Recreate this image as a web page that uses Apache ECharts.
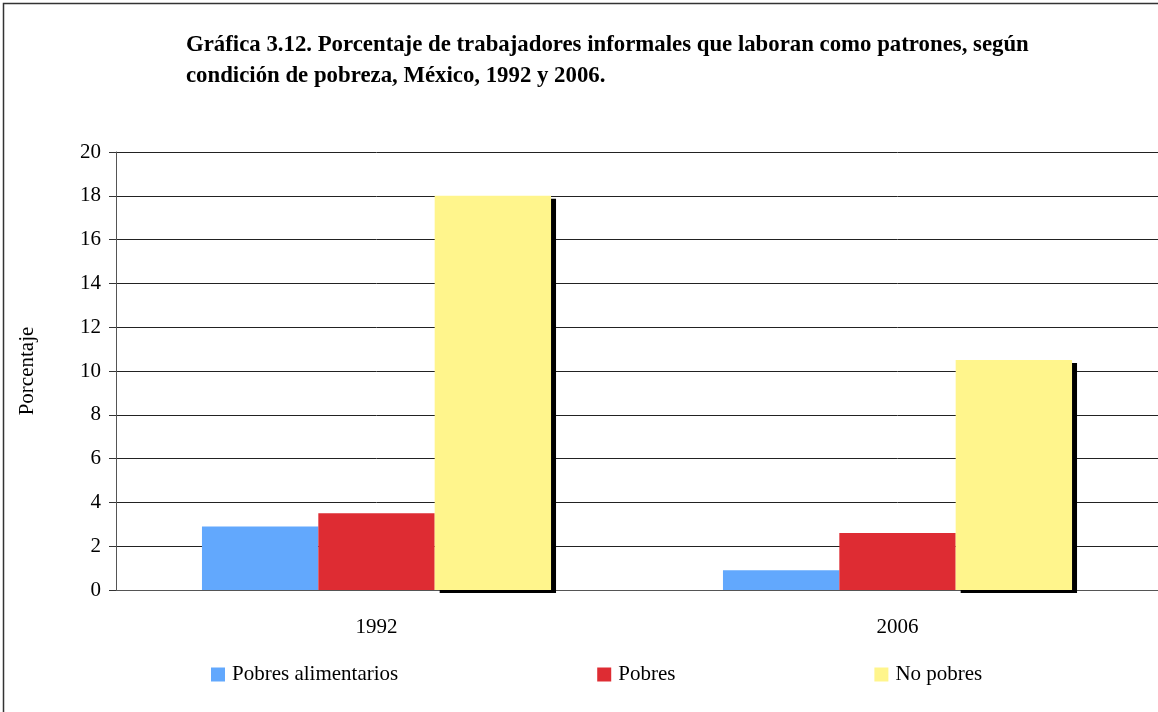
<!DOCTYPE html>
<html>
<head>
<meta charset="utf-8">
<script src="https://cdn.jsdelivr.net/npm/echarts@6/dist/echarts.min.js"></script>
<style>
  html, body { margin: 0; padding: 0; background: #fff; }
  #chart { width: 1158px; height: 712px; }
</style>
</head>
<body>
<div id="chart"></div>
<script>
const years = ['1992', '2006']
const seriesNames = ['Pobres alimentarios', 'Pobres', 'No pobres']
const pobresAlimentarios = [2.9, 0.9]
const pobres = [3.5, 2.6]
const noPobres = [18.0, 10.5]
const yTicks = [0, 20, 2]

const colors = ['#62a8fd', '#de2c33', '#fff58c']
const serif = '"Liberation Serif", "DejaVu Serif", serif'

function bar(name, data, color, shadow) {
  const s = {
    name: name,
    type: 'bar',
    data: data,
    barGap: '0%',
    barCategoryGap: '33%',
    itemStyle: { color: color },
    emphasis: { disabled: true }
  }
  if (shadow) {
    s.itemStyle.shadowColor = '#000'
    s.itemStyle.shadowOffsetX = 5
    s.itemStyle.shadowOffsetY = 3
    s.itemStyle.shadowBlur = 0
  }
  return s
}

const chart = echarts.init(document.getElementById('chart'))
chart.setOption({
  animation: false,
  graphic: [{
    type: 'rect',
    shape: { x: 3.5, y: 3.5, width: 1200, height: 800 },
    style: { fill: 'none', stroke: '#333', lineWidth: 1.5 }
  }],
  title: {
    text: 'Gráfica 3.12. Porcentaje de trabajadores informales que laboran como patrones, según\ncondición de pobreza, México, 1992 y 2006.',
    left: 181,
    top: 25,
    textStyle: {
      fontFamily: serif,
      fontWeight: 'bold',
      fontSize: 22.8,
      lineHeight: 31,
      color: '#000'
    }
  },
  legend: {
    left: 206,
    top: 659,
    itemWidth: 14,
    itemHeight: 14,
    itemGap: 199,
    icon: 'rect',
    textStyle: { fontFamily: serif, fontSize: 21, color: '#000', padding: [0, 0, 0, 2] },
    data: seriesNames
  },
  grid: { left: 116, right: 0, top: 152, bottom: 122 },
  xAxis: {
    type: 'category',
    data: years,
    axisLine: { lineStyle: { color: '#555', width: 1 } },
    axisTick: { length: 7, lineStyle: { color: '#555' } },
    axisLabel: { fontFamily: serif, fontSize: 21, color: '#000', margin: 27 }
  },
  yAxis: {
    type: 'value',
    min: yTicks[0],
    max: yTicks[1],
    interval: yTicks[2],
    name: 'Porcentaje',
    nameLocation: 'middle',
    nameGap: 78,
    nameTextStyle: { fontFamily: serif, fontSize: 21, color: '#000' },
    axisLine: { show: true, lineStyle: { color: '#555' } },
    axisTick: { show: true, inside: false, length: 7, lineStyle: { color: '#333' } },
    axisLabel: { fontFamily: serif, fontSize: 21, color: '#000', margin: 15 },
    splitLine: { lineStyle: { color: '#222', width: 1 } }
  },
  series: [
    bar(seriesNames[0], pobresAlimentarios, colors[0], false),
    bar(seriesNames[1], pobres, colors[1], false),
    bar(seriesNames[2], noPobres, colors[2], true)
  ]
})
</script>
</body>
</html>
